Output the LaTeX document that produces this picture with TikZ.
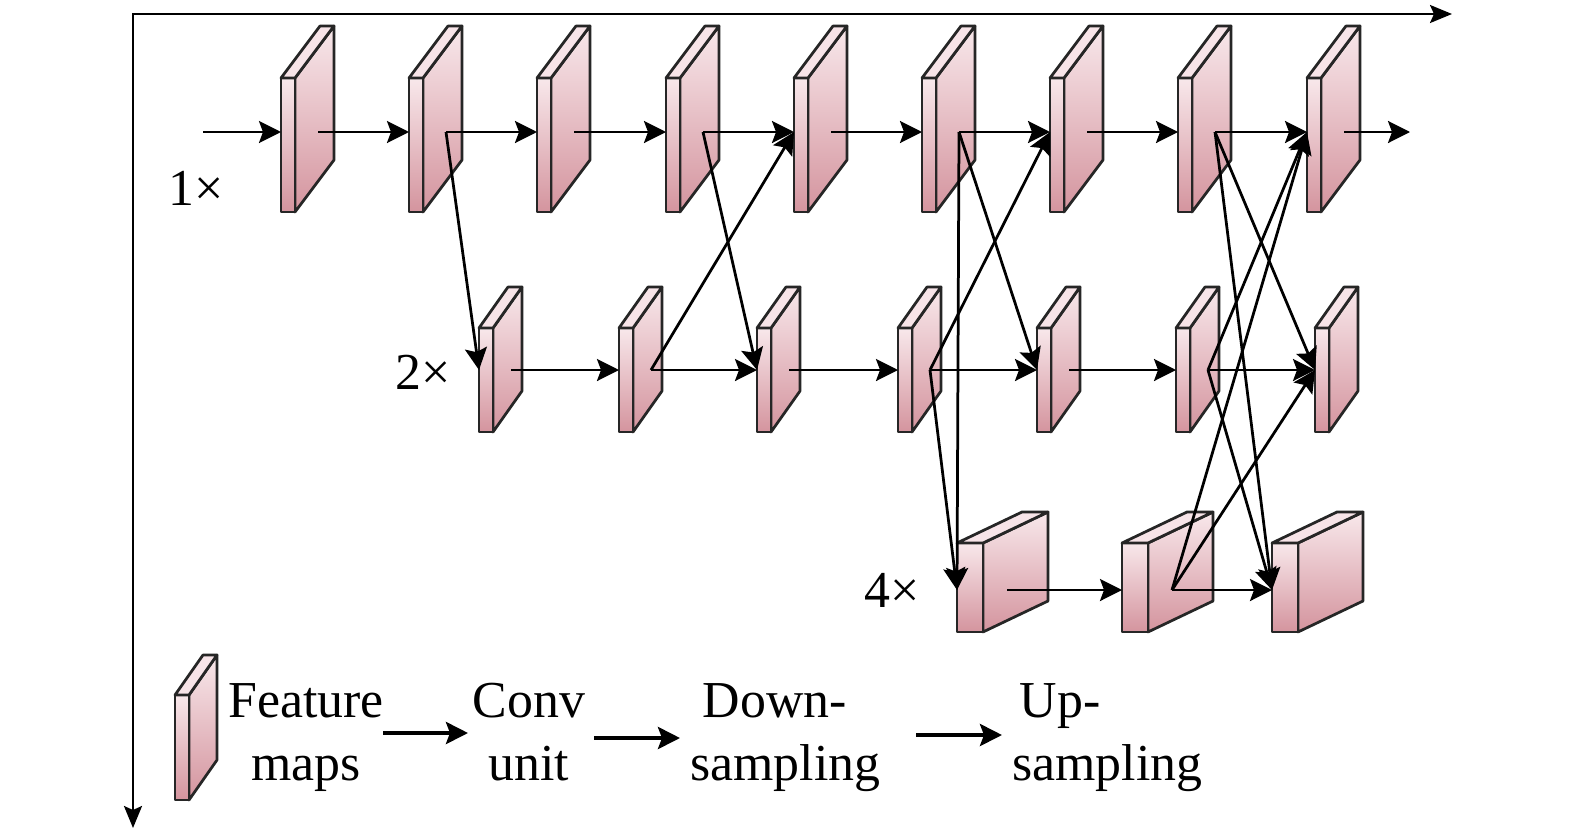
\documentclass[tikz,border=0pt]{standalone}
\usepackage{fontspec}
\setmainfont{Liberation Serif}
\usepackage{xcolor}
\usepackage{tikz}
\usetikzlibrary{arrows.meta}
\definecolor{rosec}{RGB}{248,232,235}
\definecolor{rosef}{RGB}{212,148,158}
\definecolor{rosel}{RGB}{247,228,232}

% un bloc : x, y haut, largeur, hauteur, profondeur dx, dy
\newcommand{\cuboid}[6]{%
  \draw[face] (#1,#2) ++(#3,0) -- ++(#5,-#6) -- ++(0,#4) -- ++(-#5,#6) -- cycle;
  \draw[face] (#1,#2) rectangle ++(#3,#4);
  \draw[lid] (#1,#2) -- ++(#5,-#6) -- ++(#3,0) -- ++(-#5,#6) -- cycle;}
\newcommand{\fmapA}[2]{\cuboid{#2}{78}{14}{134}{39}{52}
  \coordinate (#1-i) at (#2,132); \coordinate (#1-o) at (#2+37,132);}
\newcommand{\fmapB}[2]{\cuboid{#2}{328}{14}{104}{29}{41}
  \coordinate (#1-i) at (#2,370); \coordinate (#1-o) at (#2+32,370);}
\newcommand{\fmapC}[2]{\cuboid{#2}{543}{26}{89}{65}{31}
  \coordinate (#1-i) at (#2,590); \coordinate (#1-o) at (#2+50,590);}

\begin{document}
\begin{tikzpicture}[x=0.02cm, y=-0.02cm,
  face/.style={draw=black!85, line width=0.055cm, line join=round, top color=rosec, bottom color=rosef},
  lid/.style={draw=black!85, line width=0.055cm, line join=round, fill=rosel},
  conn/.style={line width=0.055cm, -{Stealth[length=0.44cm, width=0.44cm, inset=0.08cm]}},
  legarr/.style={line width=0.08cm, -{Stealth[length=0.44cm, width=0.44cm, inset=0.08cm]}},
  axe/.style={line width=0.05cm, {Stealth[length=0.44cm, width=0.36cm, inset=0.08cm]}-{Stealth[length=0.44cm, width=0.36cm, inset=0.08cm]}},
  lab/.style={font=\fontsize{29.5}{36}\selectfont, inner sep=0pt}]
\useasboundingbox (0,0) rectangle (1575,835);

% ── axes ──
\coordinate (org) at (133,14);
\coordinate (xend) at (1452,14);
\coordinate (yend) at (133,828);
\draw[axe] (xend) -- (org) -- (yend);

% ── blocs 1x ──
\fmapA{a1}{281}
\fmapA{a2}{409}
\fmapA{a3}{537}
\fmapA{a4}{666}
\fmapA{a5}{794}
\fmapA{a6}{922}
\fmapA{a7}{1050}
\fmapA{a8}{1178}
\fmapA{a9}{1307}

% ── blocs 2x ──
\fmapB{b1}{479}
\fmapB{b2}{619}
\fmapB{b3}{757}
\fmapB{b4}{898}
\fmapB{b5}{1037}
\fmapB{b6}{1176}
\fmapB{b7}{1315}

% ── blocs 4x ──
\fmapC{c1}{957}
\fmapC{c2}{1122}
\fmapC{c3}{1272}

% ── échelles ──
\node[lab] (s1) at (196,188) {1×};
\node[lab] (s2) at (423,372) {2×};
\node[lab] (s4) at (892,590) {4×};

% ── liaisons 1x ──
\coordinate (in) at (203,132);
\coordinate (out) at (1410,132);
\draw[conn] (in) -- (a1-i);
\draw[conn] (a1-o) -- (a2-i);
\draw[conn] (a2-o) -- (a3-i);
\draw[conn] (a3-o) -- (a4-i);
\draw[conn] (a4-o) -- (a5-i);
\draw[conn] (a5-o) -- (a6-i);
\draw[conn] (a6-o) -- (a7-i);
\draw[conn] (a7-o) -- (a8-i);
\draw[conn] (a8-o) -- (a9-i);
\draw[conn] (a9-o) -- (out);

% ── liaisons 2x et 4x ──
\draw[conn] (b1-o) -- (b2-i);
\draw[conn] (b2-o) -- (b3-i);
\draw[conn] (b3-o) -- (b4-i);
\draw[conn] (b4-o) -- (b5-i);
\draw[conn] (b5-o) -- (b6-i);
\draw[conn] (b6-o) -- (b7-i);
\draw[conn] (c1-o) -- (c2-i);
\draw[conn] (c2-o) -- (c3-i);

% ── échanges entre résolutions ──
\draw[conn] (a2-o) -- (b1-i);
\draw[conn] (a4-o) -- (b3-i);
\draw[conn] (b2-o) -- (a5-i);
\draw[conn] (a6-o) -- (b5-i);
\draw[conn] (a6-o) -- (c1-i);
\draw[conn] (b4-o) -- (a7-i);
\draw[conn] (b4-o) -- (c1-i);
\draw[conn] (a8-o) -- (b7-i);
\draw[conn] (a8-o) -- (c3-i);
\draw[conn] (b6-o) -- (a9-i);
\draw[conn] (b6-o) -- (c3-i);
\draw[conn] (c2-o) -- (a9-i);
\draw[conn] (c2-o) -- (b7-i);

% ── légende ──
\cuboid{175}{695}{14}{105}{28}{40}
\node[lab, align=center, anchor=north] (feat) at (306,683) {Feature\\maps};
\node[lab, align=center, anchor=north] (conv) at (529,683) {Conv\\unit};
\node[lab, align=left, anchor=north west] (down) at (690,683) {\hspace*{0.25cm}Down-\\sampling};
\node[lab, align=left, anchor=north west] (up) at (1012,683) {\hspace*{0.15cm}Up-\\sampling};
\coordinate (k1a) at (383,733);
\coordinate (k1b) at (468,733);
\coordinate (k2a) at (594,738);
\coordinate (k2b) at (680,738);
\coordinate (k3a) at (916,735);
\coordinate (k3b) at (1002,735);
\draw[legarr] (k1a) -- (k1b);
\draw[legarr] (k2a) -- (k2b);
\draw[legarr] (k3a) -- (k3b);

\end{tikzpicture}
\end{document}
